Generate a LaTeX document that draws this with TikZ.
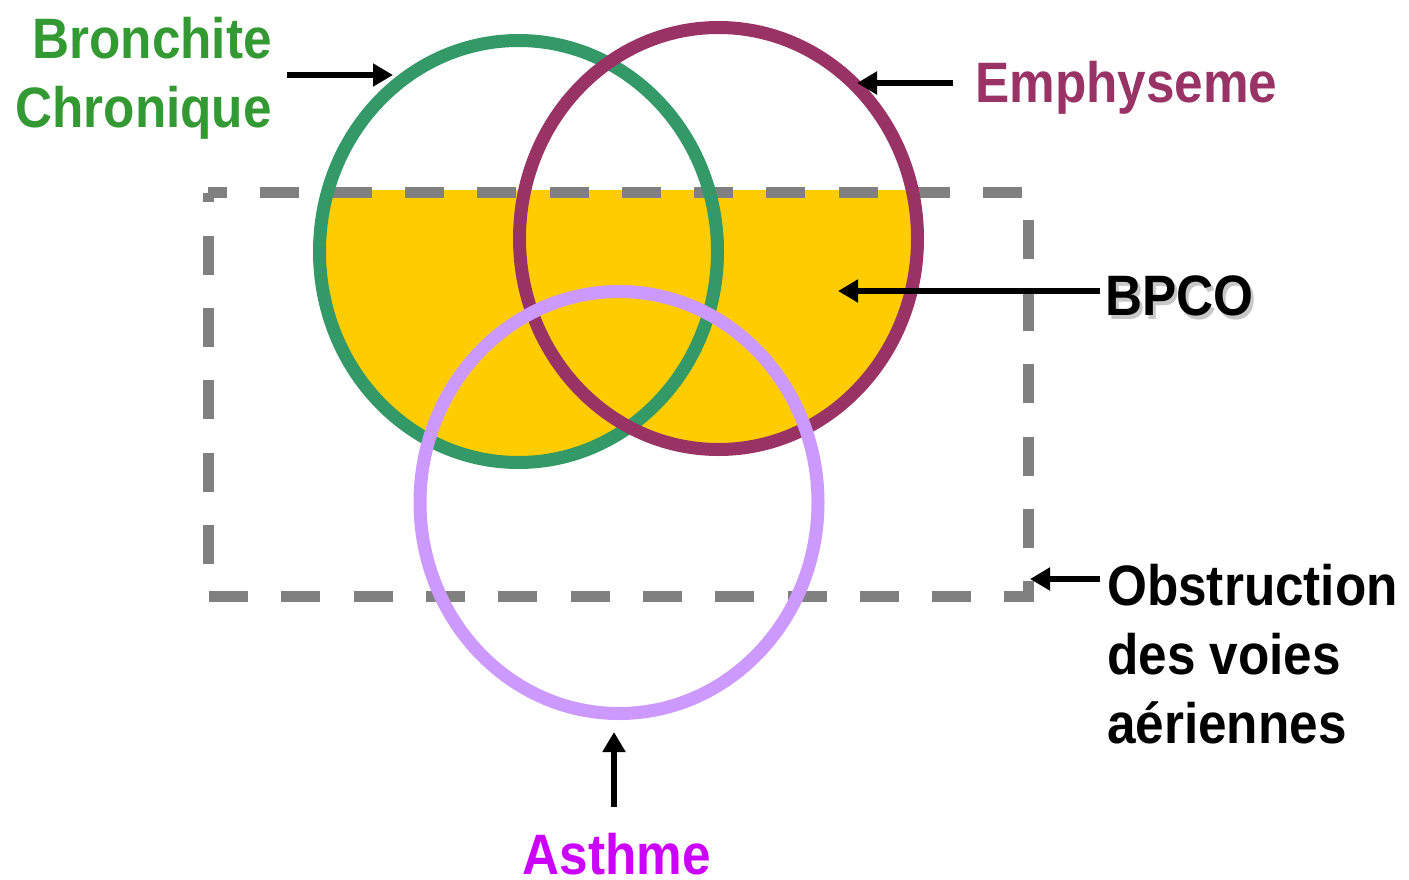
\documentclass[tikz,border=0pt]{standalone}
\usepackage{fontspec}
\setmainfont{Liberation Sans}[FakeStretch=0.9]
\usetikzlibrary{arrows.meta}
\tikzset{>={Triangle[width=22pt,length=20pt]}}
\definecolor{bcgreen}{HTML}{339966}
\definecolor{bctext}{HTML}{339933}
\definecolor{emplum}{HTML}{993366}
\definecolor{aslilac}{HTML}{CC99FF}
\definecolor{astext}{HTML}{CC00FF}
\definecolor{bpgold}{HTML}{FFCC00}
\definecolor{obgray}{HTML}{808080}
\tikzset{
  ring/.style={line width=13pt},
  lbl/.style={inner sep=0pt, font=\bfseries\fontsize{57}{69}\selectfont},
  pointer/.style={->, line width=5.5pt, black}
}

\begin{document}
\begin{tikzpicture}[x=1pt,y=-1pt]

\newcommand\RX{199}
\newcommand\RY{211}

  \useasboundingbox (0,0) rectangle (1409,879);

  \coordinate (bc) at (518.5,251.5);
  \coordinate (em) at (718.5,238.5);
  \coordinate (as) at (619,502.5);

  %% BPCO area
  \begin{scope}
    \clip (200,190) rectangle (1040,900);
    \fill[bpgold] (bc) ellipse[x radius=\RX, y radius=\RY];
    \fill[bpgold] (em) ellipse[x radius=\RX, y radius=\RY];
  \end{scope}

  %% obstruction box
  \coordinate (tl) at (208,192.5);
  \coordinate (tr) at (1028.5,192.5);
  \coordinate (br) at (1028.5,596);
  \coordinate (bl) at (208,596);
  \draw[obgray, line width=11pt, dash pattern=on 39pt off 33.3pt, dash phase=20pt]
    (tl) -- (tr) -- (br) -- (bl) -- cycle;

  \draw[ring, draw=bcgreen] (bc) ellipse[x radius=\RX, y radius=\RY];
  \draw[ring, draw=emplum] (em) ellipse[x radius=\RX, y radius=\RY];
  \draw[ring, draw=aslilac] (as) ellipse[x radius=\RX, y radius=\RY];

  %% labels (base = last line)
  \node[lbl, text=bctext, align=right, anchor=base east] (bctxt) at (272,127)
    {Bronchite\\Chronique};
  \node[lbl, text=emplum, anchor=base west] (emtxt) at (975,102) {Emphyseme};
  \node[lbl, text=black!22, anchor=base west] (bpshadow) at (1108,319) {BPCO};
  \node[lbl, anchor=base west] (bptxt) at (1105,315) {BPCO};
  \node[lbl, align=left, anchor=base west] (obtxt) at (1107,743)
    {Obstruction\\des voies\\aériennes};
  \node[lbl, text=astext, anchor=base] (astxt) at (617,874) {Asthme};

  %% pointers
  \coordinate (bcfrom) at (287,75);   \coordinate (bcto) at (393,75);
  \coordinate (emfrom) at (953,83);   \coordinate (emto) at (857,83);
  \coordinate (bpfrom) at (1100,291); \coordinate (bpto) at (838,291);
  \coordinate (obfrom) at (1100,579); \coordinate (obto) at (1030,579);
  \coordinate (asfrom) at (614,807);  \coordinate (asto) at (614,732);

  \draw[pointer] (bcfrom) -- (bcto);
  \draw[pointer] (emfrom) -- (emto);
  \draw[pointer] (bpfrom) -- (bpto);
  \draw[pointer] (obfrom) -- (obto);
  \draw[pointer] (asfrom) -- (asto);

\end{tikzpicture}
\end{document}
